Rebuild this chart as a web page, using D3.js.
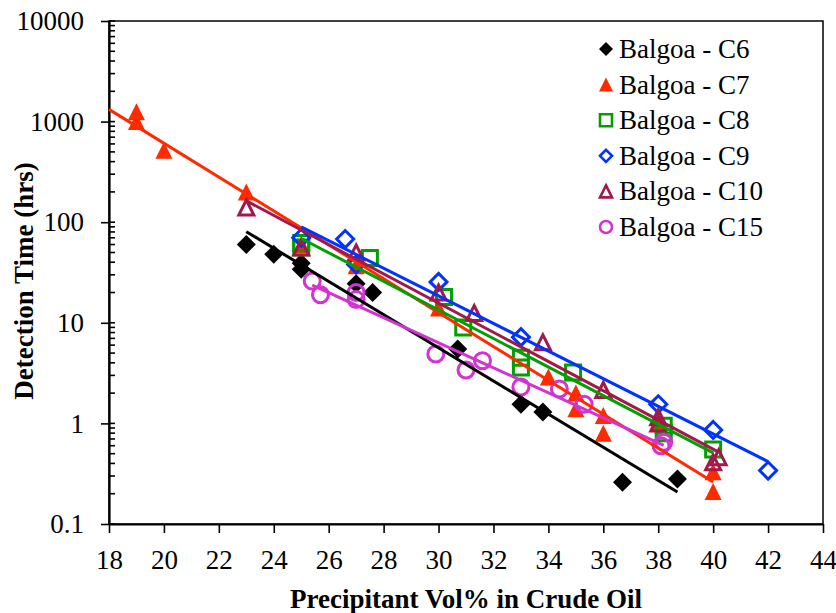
<!DOCTYPE html>
<html>
<head>
<meta charset="utf-8">
<script src="https://cdn.jsdelivr.net/npm/d3@7"></script>
<style>
  body { margin: 0; background: #fff; }
  svg text { font-family: "Liberation Serif", "Times New Roman", "DejaVu Serif", serif; fill: #000; }
</style>
</head>
<body>
<div class="chart"></div>
<script>

// Series names
var seriesNames = ["Balgoa - C6", "Balgoa - C7", "Balgoa - C8", "Balgoa - C9", "Balgoa - C10", "Balgoa - C15"];

// Precipitant vol% (x) and detection time in hrs (y) for each series
var c6X = [23, 24, 25, 25, 27, 27.6, 30.7, 33, 33.8, 36.7, 38.7];
var c6Y = [60, 48, 39, 34, 24.5, 20, 5.5, 1.55, 1.3, 0.26, 0.28];

var c7X = [19, 19, 20, 23, 25, 27, 30, 34, 35, 35, 36, 36, 38, 40, 40];
var c7Y = [1250, 1000, 520, 200, 60, 37, 14, 2.9, 2.0, 1.4, 1.2, 0.8, 1.0, 0.33, 0.21];

var c8X = [25, 25, 27.5, 30.2, 30.9, 33, 33, 34.9, 38.2, 38.2, 40];
var c8Y = [62, 56, 44, 18, 9, 4.5, 3.6, 3.2, 0.95, 0.8, 0.55];

var c9X = [25, 26.6, 27, 30, 33, 38, 40, 42];
var c9Y = [70, 68, 38, 25.5, 7.2, 1.55, 0.86, 0.34];

var c10X = [23, 25, 27, 30, 31.3, 33.8, 36, 38, 38, 40.2, 40];
var c10Y = [140, 56, 50, 20, 12.5, 6.4, 2.15, 1.15, 1.0, 0.46, 0.41];

var c15X = [25.4, 25.7, 27, 27, 29.9, 31, 31.6, 33, 34.4, 35.3, 38.1, 38.2];
var c15Y = [26, 19, 20, 17, 4.9, 3.4, 4.2, 2.3, 2.2, 1.55, 0.6, 0.65];

// Trendline start (Excel forecast backward for C7)
var trendStart = [null, 18, null, null, null, null];

// Axis ticks
var xTicks = [18, 20, 22, 24, 26, 28, 30, 32, 34, 36, 38, 40, 42, 44];
var yTicks = [0.1, 1, 10, 100, 1000, 10000];
var yTickLabels = ["0.1", "1", "10", "100", "1000", "10000"];

var colors = ["#000000", "#ff2a00", "#00a000", "#0033ff", "#a3184b", "#d333d3"];
var shapes = ["diamondFill", "triangleFill", "square", "diamond", "triangle", "circle"];

var allX = [c6X, c7X, c8X, c9X, c10X, c15X];
var allY = [c6Y, c7Y, c8Y, c9Y, c10Y, c15Y];

var series = seriesNames.map(function(name, i) {
    return {
        name: name,
        color: colors[i],
        shape: shapes[i],
        start: trendStart[i],
        points: allX[i].map(function(x, j) { return { x: x, y: allY[i][j] }; })
    };
});

var width = 836, height = 613;
var plot = { left: 109, right: 823, top: 21, bottom: 524 };

var svg = d3.select(".chart")
    .append("svg")
        .attr("width", width)
        .attr("height", height);

var x = d3.scaleLinear()
    .domain([18, 44])
    .range([plot.left, plot.right]);

var y = d3.scaleLog()
    .domain([0.1, 10000])
    .range([plot.bottom, plot.top]);

// Marker path for a given shape and size
function markerPath(shape, s) {
    var h = s / 2;
    if (shape == "diamond" || shape == "diamondFill") {
        return "M0," + (-h) + "L" + h + ",0L0," + h + "L" + (-h) + ",0Z";
    }
    if (shape == "triangle" || shape == "triangleFill") {
        return "M0," + (-h) + "L" + h + "," + h + "L" + (-h) + "," + h + "Z";
    }
    if (shape == "square") {
        return "M" + (-h) + "," + (-h) + "H" + h + "V" + h + "H" + (-h) + "Z";
    }
    return "M" + h + ",0A" + h + "," + h + " 0 1,1 " + (-h) + ",0A" + h + "," + h + " 0 1,1 " + h + ",0Z";
}

function isFilled(shape) {
    return shape == "diamondFill" || shape == "triangleFill";
}

var markerSize = { diamondFill: 19, triangleFill: 17, square: 15, diamond: 17, triangle: 15, circle: 16 };

// Frame of the plot area
svg.append("rect")
    .attr("x", plot.left)
    .attr("y", plot.top)
    .attr("width", plot.right - plot.left)
    .attr("height", plot.bottom - plot.top)
    .attr("fill", "none")
    .attr("stroke", "#000")
    .attr("stroke-width", 1.5);

// X axis
var xAxis = svg.append("g")
    .attr("transform", "translate(0," + plot.bottom + ")")
    .call(d3.axisBottom(x)
        .tickValues(xTicks)
        .tickFormat(d3.format("d"))
        .tickSize(9)
        .tickSizeOuter(0)
        .tickPadding(17));

// Y axis, ticks cross the axis line
var yAxis = svg.append("g")
    .attr("transform", "translate(" + plot.left + ",0)")
    .call(d3.axisLeft(y)
        .tickValues(yTicks)
        .tickFormat(function(d, i) { return yTickLabels[i]; })
        .tickSize(8)
        .tickSizeOuter(0)
        .tickPadding(17));

[xAxis, yAxis].forEach(function(g) {
    g.attr("font-family", null).attr("font-size", null);
    g.select(".domain").attr("stroke-width", 2.2);
    g.selectAll(".tick line").attr("stroke-width", 1.6);
    g.selectAll(".tick text")
        .style("font-size", "27px");
});

// Inner part of major ticks and minor ticks on the log axis
var minorTicks = [];
for (var e = -1; e < 4; e++) {
    for (var m = 2; m < 10; m++) minorTicks.push(m * Math.pow(10, e));
}

svg.append("g").selectAll("line")
    .data(minorTicks.concat(yTicks))
    .enter().append("line")
        .attr("x1", plot.left)
        .attr("x2", plot.left + 6)
        .attr("y1", function(d) { return y(d); })
        .attr("y2", function(d) { return y(d); })
        .attr("stroke", "#000")
        .attr("stroke-width", 1.6);

// Markers
series.forEach(function(s) {
    svg.append("g").selectAll("path")
        .data(s.points)
        .enter().append("path")
            .attr("transform", function(d) { return "translate(" + x(d.x) + "," + y(d.y) + ")"; })
            .attr("d", markerPath(s.shape, markerSize[s.shape]))
            .attr("fill", isFilled(s.shape) ? s.color : "none")
            .attr("stroke", s.color)
            .attr("stroke-width", isFilled(s.shape) ? 0 : 3);
});

// Exponential trendlines (least squares on log10 y)
series.forEach(function(s) {
    var mx = d3.mean(s.points, function(d) { return d.x; });
    var my = d3.mean(s.points, function(d) { return Math.log10(d.y); });
    var sxy = d3.sum(s.points, function(d) { return (d.x - mx) * (Math.log10(d.y) - my); });
    var sxx = d3.sum(s.points, function(d) { return (d.x - mx) * (d.x - mx); });
    var slope = sxy / sxx;
    var x0 = s.start != null ? s.start : d3.min(s.points, function(d) { return d.x; });
    var x1 = d3.max(s.points, function(d) { return d.x; });
    var ends = [x0, x1].map(function(v) { return { x: v, y: Math.pow(10, my + slope * (v - mx)) }; });

    svg.append("path")
        .datum(ends)
        .attr("fill", "none")
        .attr("stroke", s.color)
        .attr("stroke-width", 3)
        .attr("d", d3.line()
            .x(function(d) { return x(d.x); })
            .y(function(d) { return y(d.y); }));
});

// Legend
var legend = svg.append("g");
series.forEach(function(s, i) {
    var ly = 49 + i * 35.6;
    var shape = s.shape;
    legend.append("path")
        .attr("transform", "translate(606," + ly + ")")
        .attr("d", markerPath(shape, isFilled(shape) ? 14 : 12))
        .attr("fill", isFilled(shape) ? s.color : "none")
        .attr("stroke", s.color)
        .attr("stroke-width", isFilled(shape) ? 0 : 2.6);
    legend.append("text")
        .attr("x", 619)
        .attr("y", ly)
        .attr("dy", "0.33em")
        .style("font-size", "27px")
        .text(s.name);
});

// Axis titles
svg.append("text")
    .attr("x", (plot.left + plot.right) / 2)
    .attr("y", 608)
    .attr("text-anchor", "middle")
    .style("font-size", "27px")
    .style("font-weight", "bold")
    .text("Precipitant Vol% in Crude Oil");

svg.append("text")
    .attr("transform", "translate(33,281) rotate(-90)")
    .attr("text-anchor", "middle")
    .style("font-size", "27px")
    .style("font-weight", "bold")
    .text("Detection Time (hrs)");

</script>
</body>
</html>
